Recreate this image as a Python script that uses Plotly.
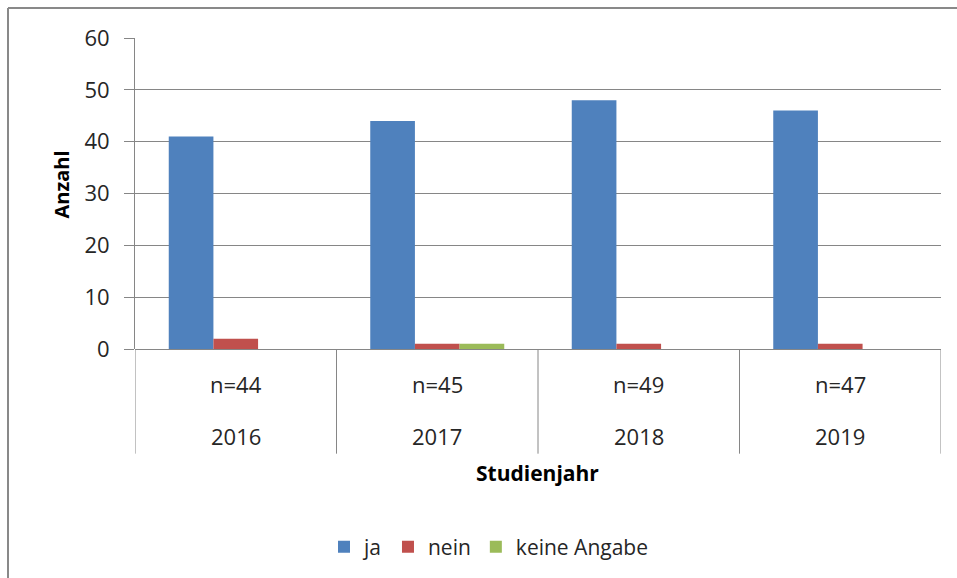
import plotly.graph_objects as go

years = ["2016", "2017", "2018", "2019"]
n_labels = ["n=44", "n=45", "n=49", "n=47"]
ja = [41, 44, 48, 46]
nein = [2, 1, 1, 1]
keine_angabe = [0, 1, 0, 0]
y_ticks = [0, 10, 20, 30, 40, 50, 60]

W, H = 957, 578
L, R, T, B = 135, 941, 38, 350  # plot area in pixels


def px_x(p):
    return (p - L) / (R - L)


def px_y(p):
    return (B - p) / (B - T)


FONT = "Open Sans"
TXT = "#262626"
GRID = "#868686"

fig = go.Figure()
series = [("ja", ja, "#4F81BD"), ("nein", nein, "#C0504D"), ("keine Angabe", keine_angabe, "#9BBB59")]
for name, vals, col in series:
    fig.add_trace(go.Bar(
        x=years, y=vals, name=name,
        marker=dict(color=col, line=dict(width=0)),
    ))

annotations = []
for i, (yr, nl) in enumerate(zip(years, n_labels)):
    annotations.append(dict(x=i, xref="x", y=px_y(385), yref="paper", text=nl,
                            showarrow=False, font=dict(family=FONT, size=22, color=TXT),
                            xanchor="center", yanchor="middle"))
    annotations.append(dict(x=i, xref="x", y=px_y(437), yref="paper", text=yr,
                            showarrow=False, font=dict(family=FONT, size=22, color=TXT),
                            xanchor="center", yanchor="middle"))

annotations.append(dict(x=px_x(62), xref="paper", y=px_y(185), yref="paper", text="<b>Anzahl</b>",
                        textangle=-90, showarrow=False,
                        font=dict(family=FONT, size=20, color="#000000"),
                        xanchor="center", yanchor="middle"))
annotations.append(dict(x=px_x(537), xref="paper", y=px_y(474), yref="paper", text="<b>Studienjahr</b>",
                        showarrow=False, font=dict(family=FONT, size=21, color="#000000"),
                        xanchor="center", yanchor="middle"))

shapes = []
for k in range(len(years) + 1):
    shapes.append(dict(type="line", xref="x", yref="paper", x0=k - 0.5, x1=k - 0.5,
                       y0=0, y1=px_y(455), line=dict(color=GRID, width=1)))
# outer chart border (top and left edges; the rest lies outside the picture)
BORDER = "#898989"
shapes.append(dict(type="line", xref="paper", yref="paper",
                   x0=px_x(8), x1=px_x(W + 20), y0=px_y(8), y1=px_y(8),
                   line=dict(color=BORDER, width=2)))
shapes.append(dict(type="line", xref="paper", yref="paper",
                   x0=px_x(8), x1=px_x(8), y0=px_y(8), y1=px_y(H + 20),
                   line=dict(color=BORDER, width=2)))

fig.update_layout(
    width=W, height=H,
    margin=dict(l=L, r=W - R, t=T, b=H - B, pad=0),
    paper_bgcolor="white", plot_bgcolor="white",
    barmode="group", bargap=0.335, bargroupgap=0,
    font=dict(family=FONT, size=22, color=TXT),
    xaxis=dict(showticklabels=False, showgrid=False, zeroline=False, showline=False,
               range=[-0.5, 3.5], ticks=""),
    yaxis=dict(range=[0, 60], tickvals=y_ticks, showgrid=True, gridcolor=GRID, gridwidth=1,
               zeroline=True, zerolinecolor=GRID, zerolinewidth=1,
               showline=True, linecolor=GRID, linewidth=1,
               ticks="outside", ticklen=10, tickcolor=GRID,
               tickfont=dict(family=FONT, size=22, color=TXT), ticklabelstandoff=10),
    showlegend=True,
    legend=dict(orientation="h", x=px_x(324), xanchor="left", y=px_y(547), yanchor="middle",
                font=dict(family=FONT, size=21, color=TXT), itemwidth=30,
                tracegroupgap=0, bgcolor="rgba(0,0,0,0)"),
    annotations=annotations, shapes=shapes,
)

fig.write_html(
    "out.html",
    config={"displayModeBar": False},
    post_script="document.body.style.margin='0';document.body.style.overflow='hidden';",
)
